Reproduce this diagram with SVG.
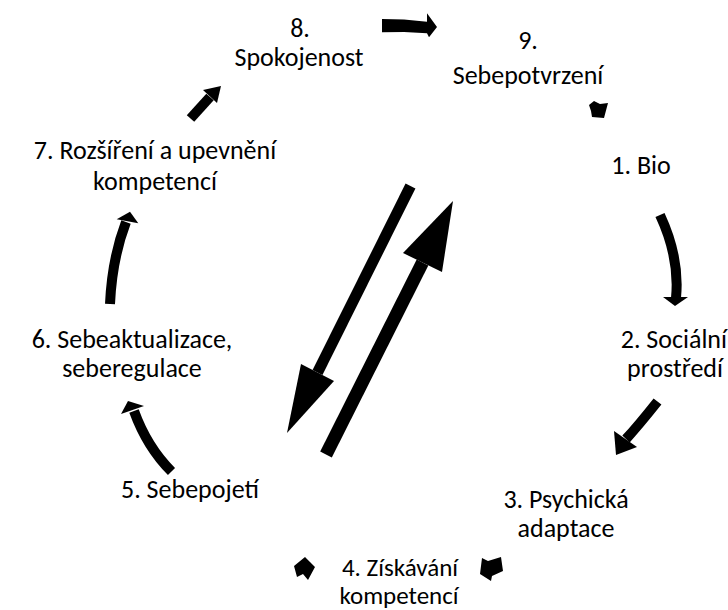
<svg xmlns="http://www.w3.org/2000/svg" width="728" height="610" viewBox="0 0 728 610">
<style>
text{font-family:Carlito,Lato,"Liberation Sans",sans-serif;font-size:26px;fill:#000;text-anchor:middle}
.e{text-anchor:end}
.s{font-size:25px}
.sh{fill:none;stroke:#000;stroke-width:10;stroke-linecap:butt}
.hd{fill:#000;stroke:none}
</style>
<rect width="728" height="610" fill="#fff"/>
<g id="n8"><text x="300" y="37">8.</text><text x="299" y="66">Spokojenost</text></g>
<g id="n9"><text x="528" y="49">9.</text><text x="528" y="84">Sebepotvrzení</text></g>
<g id="n1"><text x="641" y="174">1. Bio</text></g>
<g id="n2"><text class="e" x="727" y="348">2. Sociální</text><text class="e" x="723" y="377">prostředí</text></g>
<g id="n3"><text x="566" y="508">3. Psychická</text><text x="566" y="537">adaptace</text></g>
<g id="n4"><text class="s" x="400" y="576">4. Získávání</text><text class="s" x="399" y="604">kompetencí</text></g>
<g id="n5"><text x="190" y="498">5. Sebepojetí</text></g>
<g id="n6"><text x="132" y="348">6. Sebeaktualizace,</text><text x="132" y="377">seberegulace</text></g>
<g id="n7"><text x="155" y="159">7. Rozšíření a upevnění</text><text x="155" y="190">kompetencí</text></g>
<g id="connectors">
<g id="c78"><path class="sh" d="M190.5,118.5 L210,97"/><polygon class="hd" points="203,90 217,103 221,86"/></g>
<g id="c89"><polygon class="hd" points="382,19 404,19.5 427,21.7 427,13.3 437,27 429,37.3 427,33.3 404,32 382,32.3"/></g>
<g id="c91"><polygon class="hd" points="589,105 594,101 600,104 608,103 604,118 592,117 591,111"/></g>
<g id="c12"><path class="sh" d="M660,215 Q680,258 676,298"/><polygon class="hd" points="663,297 688,297 675,306"/></g>
<g id="c23"><path class="sh" d="M657.5,401.5 Q638,426 626,439"/><polygon class="hd" points="614,431 637,447 616,455"/></g>
<g id="c34"><polygon class="hd" points="482,558 488,561 501,557 503,571 492,576 491,581 480,574"/></g>
<g id="c45"><polygon class="hd" points="305,557 294,566 297,577 303,574 308,580 315,567 310,562"/></g>
<g id="c56"><path class="sh" d="M171.5,471.5 Q147,447 134,411"/><polygon class="hd" points="121,414 128,401 144,406"/></g>
<g id="c67"><path class="sh" d="M110,304 Q112,259 126,222"/><polygon class="hd" points="116.7,219.3 138.3,223.3 130,211.7"/></g>
<g id="bigA"><path fill="none" stroke="#000" stroke-width="11" d="M410.5,186 L317.5,372.5"/><polygon class="hd" points="301,364 334,381 287,433"/></g>
<g id="bigB"><path fill="none" stroke="#000" stroke-width="13" d="M326,454.5 L422.5,262.5"/><polygon class="hd" points="403,253 442,272 453,201"/></g>
</g>
</svg>
